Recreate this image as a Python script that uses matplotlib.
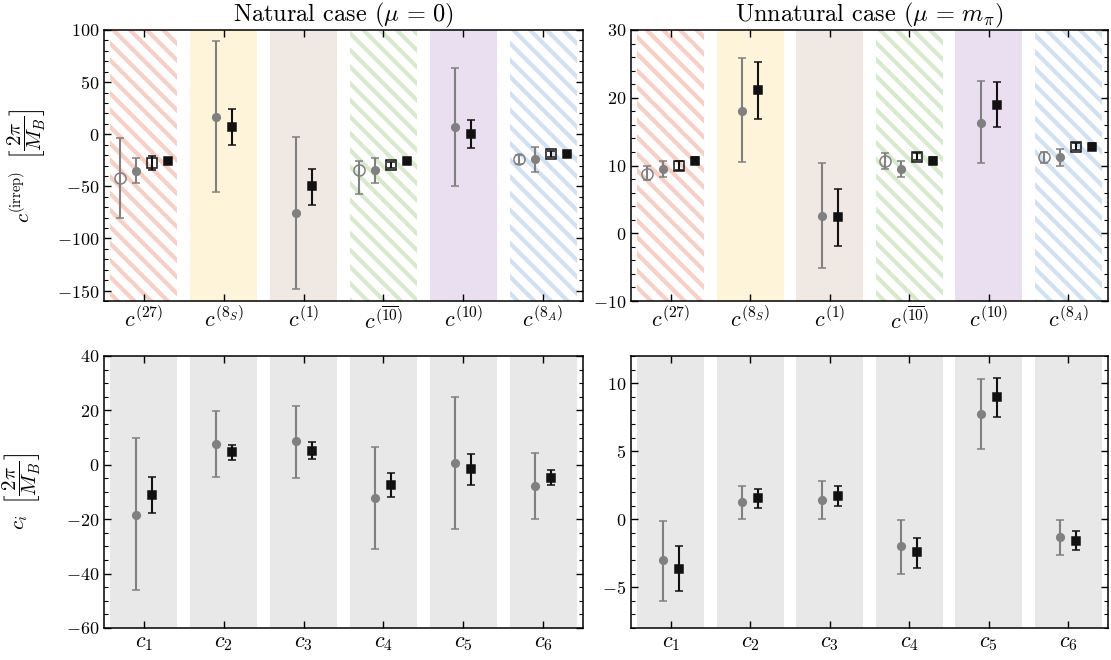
import numpy as np
import matplotlib
matplotlib.use('Agg')
import matplotlib.pyplot as plt
from matplotlib.ticker import MultipleLocator

plt.rcParams.update({
    'font.family': 'cmr10',
    'mathtext.fontset': 'cm',
    'axes.formatter.use_mathtext': True,
    'font.size': 13,
    'hatch.linewidth': 3.0,
    'axes.linewidth': 1.1,
})

# ---------------- data ----------------
irrep_labels = [r'$c^{(27)}$', r'$c^{(8_S)}$', r'$c^{(1)}$',
                r'$c^{(\overline{10})}$', r'$c^{(10)}$', r'$c^{(8_A)}$']
ci_labels = [r'$c_1$', r'$c_2$', r'$c_3$', r'$c_4$', r'$c_5$', r'$c_6$']
nan = np.nan

# Natural case, irreps: value, lower bound, upper bound
nat_A_val = [-42.0, nan, nan, -34.5, nan, -23.8]
nat_A_lo = [-80.0, nan, nan, -57.5, nan, -28.2]
nat_A_hi = [-4.0, nan, nan, -26.0, nan, -19.6]
nat_B_val = [-35.0, 17.0, -76.0, -34.5, 7.0, -24.0]
nat_B_lo = [-46.4, -55.7, -148.2, -46.4, -50.0, -36.0]
nat_B_hi = [-22.5, 89.8, -3.0, -22.5, 63.3, -12.3]
nat_C_val = [-28.0, nan, nan, -29.5, nan, -19.0]
nat_C_lo = [-34.6, nan, nan, -32.5, nan, -21.5]
nat_C_hi = [-21.2, nan, nan, -26.5, nan, -16.5]
nat_D_val = [-25.4, 6.5, -50.0, -25.4, 0.2, -19.0]
nat_D_lo = [-27.4, -10.7, -67.5, -27.4, -12.9, -21.0]
nat_D_hi = [-23.4, 23.8, -33.6, -23.4, 13.6, -17.0]

# Unnatural case, irreps
unn_A_val = [8.8, nan, nan, 10.7, nan, 11.25]
unn_A_lo = [7.8, nan, nan, 9.5, nan, 10.3]
unn_A_hi = [9.9, nan, nan, 11.8, nan, 12.0]
unn_B_val = [9.5, 18.0, 2.6, 9.5, 16.2, 11.25]
unn_B_lo = [8.3, 10.5, -5.2, 8.3, 10.4, 10.0]
unn_B_hi = [10.6, 25.8, 10.3, 10.6, 22.5, 12.4]
unn_C_val = [10.0, nan, nan, 11.3, nan, 12.8]
unn_C_lo = [9.4, nan, nan, 10.8, nan, 12.3]
unn_C_hi = [10.6, nan, nan, 11.8, nan, 13.3]
unn_D_val = [10.7, 21.1, 2.4, 10.7, 19.0, 12.8]
unn_D_lo = [10.2, 16.8, -1.9, 10.2, 15.7, 12.3]
unn_D_hi = [11.2, 25.3, 6.6, 11.2, 22.3, 13.3]

# Natural case, c_i
natc_B_val = [-18.3, 7.7, 8.6, -12.3, 0.6, -7.8]
natc_B_lo = [-46.0, -4.4, -4.8, -30.8, -23.6, -19.9]
natc_B_hi = [9.9, 19.6, 21.7, 6.6, 25.0, 4.2]
natc_D_val = [-11.0, 4.7, 5.2, -7.4, -1.7, -4.7]
natc_D_lo = [-17.8, 1.8, 2.1, -11.8, -7.4, -7.6]
natc_D_hi = [-4.5, 7.4, 8.3, -3.1, 4.0, -2.0]

# Unnatural case, c_i
unnc_B_val = [-3.0, 1.25, 1.4, -2.0, 7.7, -1.3]
unnc_B_lo = [-6.0, 0.0, 0.0, -4.0, 5.15, -2.6]
unnc_B_hi = [-0.1, 2.45, 2.82, -0.07, 10.33, -0.07]
unnc_D_val = [-3.65, 1.55, 1.72, -2.43, 9.0, -1.57]
unnc_D_lo = [-5.3, 0.81, 0.96, -3.56, 7.51, -2.28]
unnc_D_hi = [-2.0, 2.23, 2.45, -1.37, 10.4, -0.88]

band_colors = ['#f8cfc2', '#fdf4da', '#f0e8e2', '#d8eacc', '#e9dff1', '#cfe1f3']
band_hatched = [True, False, False, True, False, True]

GREY = '#808080'
BLACK = '#111111'

fig = plt.figure(figsize=(11.11, 6.6), dpi=100)
W, H = 1111.0, 660.0
def ax_at(l, t, r, b):
    return fig.add_axes([l / W, 1 - b / H, (r - l) / W, (b - t) / H])

ax_tl = ax_at(104, 30, 583, 301)
ax_tr = ax_at(631, 30, 1108, 301)
ax_bl = ax_at(104, 356, 583, 628)
ax_br = ax_at(631, 356, 1108, 628)

x = np.arange(6)


def style_axes(ax, labels, ylim, major, minor):
    ax.set_xlim(-0.5, 5.5)
    ax.set_ylim(*ylim)
    ax.set_xticks(x)
    ax.set_xticklabels(labels, fontsize=16)
    ax.yaxis.set_major_locator(MultipleLocator(major))
    ax.yaxis.set_minor_locator(MultipleLocator(minor))
    ax.tick_params(which='both', direction='in', top=True, right=True)
    ax.tick_params(which='major', length=5, width=1.0)
    ax.tick_params(which='minor', length=3, width=0.8)
    ax.tick_params(axis='x', which='minor', top=False, bottom=False)
    ax.tick_params(axis='x', which='major', pad=4)


def draw_err(ax, pos, val, lo, hi, color, marker, ms, mfc, mec, z=5):
    val = np.asarray(val, float)
    lo = np.asarray(lo, float)
    hi = np.asarray(hi, float)
    m = ~np.isnan(val)
    ax.errorbar(np.asarray(pos)[m], val[m], yerr=[val[m] - lo[m], hi[m] - val[m]],
                fmt=marker, ms=ms, mfc=mfc, mec=mec, mew=1.1, color=color,
                ecolor=color, elinewidth=1.5, capsize=3, capthick=1.2, zorder=z)


def irrep_panel(ax, A, B, C, D, ylim, major, minor):
    for i in range(6):
        if band_hatched[i]:
            ax.axvspan(i - 0.42, i + 0.42, facecolor='white', edgecolor=band_colors[i],
                       hatch='\\\\', linewidth=0, zorder=0)
        else:
            ax.axvspan(i - 0.42, i + 0.42, facecolor=band_colors[i], linewidth=0, zorder=0)
    has4 = ~np.isnan(np.asarray(A[0], float))
    posA = x - 0.3
    posB = x - 0.1
    posC = x + 0.1
    posD = np.where(has4, x + 0.3, x + 0.1)
    draw_err(ax, posA, *A, GREY, 'o', 8, 'none', GREY)
    draw_err(ax, posB, *B, GREY, 'o', 5.5, GREY, GREY)
    draw_err(ax, posC, *C, BLACK, 's', 7, 'none', BLACK)
    draw_err(ax, posD, *D, BLACK, 's', 5.5, BLACK, BLACK)
    style_axes(ax, irrep_labels, ylim, major, minor)


def ci_panel(ax, B, D, ylim, major, minor):
    for i in range(6):
        ax.axvspan(i - 0.42, i + 0.42, facecolor='#e8e8e8', linewidth=0, zorder=0)
    draw_err(ax, x - 0.1, *B, GREY, 'o', 5.5, GREY, GREY)
    draw_err(ax, x + 0.1, *D, BLACK, 's', 5.5, BLACK, BLACK)
    style_axes(ax, ci_labels, ylim, major, minor)


irrep_panel(ax_tl, (nat_A_val, nat_A_lo, nat_A_hi), (nat_B_val, nat_B_lo, nat_B_hi),
            (nat_C_val, nat_C_lo, nat_C_hi), (nat_D_val, nat_D_lo, nat_D_hi),
            (-160, 100), 50, 10)
irrep_panel(ax_tr, (unn_A_val, unn_A_lo, unn_A_hi), (unn_B_val, unn_B_lo, unn_B_hi),
            (unn_C_val, unn_C_lo, unn_C_hi), (unn_D_val, unn_D_lo, unn_D_hi),
            (-10, 30), 10, 2)
ci_panel(ax_bl, (natc_B_val, natc_B_lo, natc_B_hi), (natc_D_val, natc_D_lo, natc_D_hi),
         (-60, 40), 20, 5)
ci_panel(ax_br, (unnc_B_val, unnc_B_lo, unnc_B_hi), (unnc_D_val, unnc_D_lo, unnc_D_hi),
         (-8, 12), 5, 1)

ax_tl.set_title(r'Natural case ($\mu\,=\,0$)', fontsize=17.5, pad=6)
ax_tr.set_title(r'Unnatural case ($\mu\,=\,m_\pi$)', fontsize=17.5, pad=6)
ax_tl.set_ylabel(r'$c^{(\mathrm{irrep})}\;\;\left[\dfrac{2\pi}{M_B}\right]$', fontsize=15, labelpad=6)
ax_bl.set_ylabel(r'$c_i\;\;\left[\dfrac{2\pi}{M_B}\right]$', fontsize=15, labelpad=16)

fig.savefig('out.png', dpi=100)
